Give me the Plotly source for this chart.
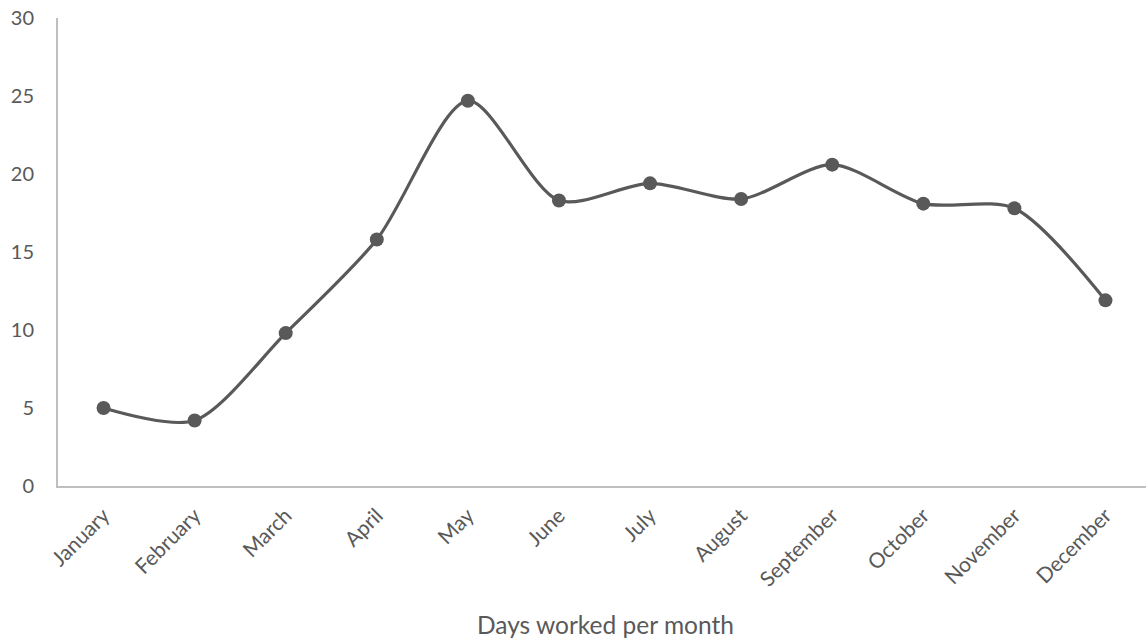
import plotly.graph_objects as go

months = ["January", "February", "March", "April", "May", "June", "July",
          "August", "September", "October", "November", "December"]
days = [5.0, 4.2, 9.8, 15.8, 24.7, 18.3, 19.4, 18.4, 20.6, 18.1, 17.8, 11.9]
y_ticks = [0, 5, 10, 15, 20, 25, 30]

fig = go.Figure()
fig.add_trace(go.Scatter(
    x=months, y=days, mode="lines+markers",
    line=dict(color="#595959", width=3.2, shape="spline", smoothing=0.8),
    marker=dict(color="#595959", size=14),
    showlegend=False, hoverinfo="x+y",
))

fig.update_layout(
    width=1146, height=639,
    margin=dict(l=58, r=0, t=18, b=153),
    plot_bgcolor="white", paper_bgcolor="white",
    font=dict(family="Lato, Open Sans, sans-serif", color="#595959", size=20),
    xaxis=dict(
        type="category", range=[-0.5, 11.445],
        showgrid=False, showline=True, linecolor="#bfbfbf", linewidth=2,
        tickangle=-45, ticks="", tickfont=dict(size=21, color="#595959"),
        ticklabelstandoff=7,
    ),
    yaxis=dict(
        range=[0, 30], tickvals=y_ticks,
        showgrid=False, showline=True, linecolor="#bfbfbf", linewidth=2,
        ticks="", tickfont=dict(size=20, color="#595959"), zeroline=False,
        ticklabelstandoff=18, ticklabeloverflow="allow",
    ),
    annotations=[dict(
        text="Days worked per month",
        x=(605 - 58) / (1146 - 58), xref="paper",
        y=-(624 - 486) / (486 - 18), yref="paper",
        yanchor="middle", showarrow=False,
        font=dict(size=24.5, color="#595959"),
    )],
)

fig.write_html(
    "out.html",
    config={"displayModeBar": False},
    post_script="document.body.style.margin='0px';document.body.style.overflow='hidden';",
)
